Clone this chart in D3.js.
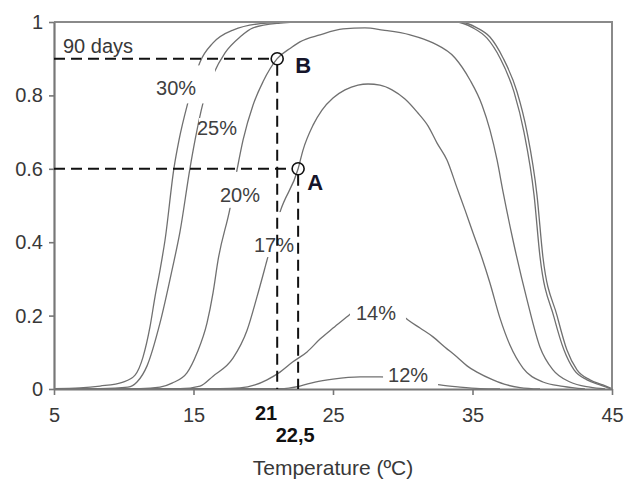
<!DOCTYPE html>
<html>
<head>
<meta charset="utf-8">
<script src="https://cdn.jsdelivr.net/npm/d3@7"></script>
<style>
  body { margin: 0; background: #fff; }
  svg text { font-family: "Liberation Sans", Arial, sans-serif; }
</style>
</head>
<body>
<svg id="chart" width="625" height="479"></svg>
<script>
// Share of seeds (0-1) against temperature (ºC) for each moisture content.
const curve30 = [[5.0,0.001],[6.86,0.003],[8.30,0.008],[9.95,0.019],[10.81,0.038],[11.38,0.087],[11.88,0.169],[12.24,0.251],[12.60,0.324],[12.96,0.406],[13.60,0.602],[13.96,0.678],[14.61,0.782],[15.47,0.891],[16.40,0.943],[17.83,0.978],[20.27,0.997],[22.63,1.0],[34.1,1.0],[35.32,0.984],[36.25,0.959],[37.19,0.902],[38.19,0.81],[38.91,0.70],[39.62,0.529],[40.05,0.359],[41.06,0.20],[41.77,0.106],[42.49,0.052],[43.42,0.025],[44.35,0.011],[45.0,0.001]];
const curve25 = [[5.0,0.0],[8.30,0.001],[10.30,0.005],[10.95,0.019],[11.67,0.063],[12.60,0.18],[13.46,0.324],[14.03,0.428],[14.75,0.602],[15.11,0.678],[15.68,0.779],[16.40,0.856],[17.26,0.916],[18.33,0.959],[19.27,0.984],[21.20,0.997],[22.63,1.0],[33.75,1.0],[35.04,0.984],[36.04,0.956],[36.97,0.902],[37.98,0.809],[38.69,0.70],[39.41,0.529],[39.84,0.36],[40.84,0.196],[41.56,0.106],[42.28,0.052],[43.21,0.025],[44.14,0.011],[44.86,0.001]];
const curve20 = [[5.0,0.0],[11.16,0.001],[12.60,0.005],[13.46,0.016],[14.53,0.044],[15.25,0.098],[15.97,0.18],[16.40,0.262],[16.76,0.351],[17.62,0.493],[18.12,0.597],[18.55,0.678],[19.27,0.774],[19.98,0.837],[21.0,0.9],[22.0,0.93],[22.63,0.946],[24.07,0.965],[25.72,0.981],[27.29,0.984],[28.58,0.978],[30.52,0.965],[32.17,0.943],[33.75,0.902],[34.82,0.842],[35.68,0.774],[36.25,0.706],[36.76,0.624],[37.19,0.537],[37.90,0.406],[38.91,0.243],[39.84,0.114],[40.77,0.052],[41.99,0.019],[43.42,0.005],[44.5,0.0]];
const curve17 = [[5.0,0.0],[14.03,0.001],[15.47,0.008],[16.40,0.035],[17.83,0.084],[18.84,0.16],[19.55,0.251],[20.27,0.351],[21.20,0.482],[22.5,0.6],[22.85,0.651],[23.57,0.719],[24.21,0.76],[25.0,0.793],[25.86,0.815],[26.79,0.828],[27.51,0.831],[28.37,0.828],[29.23,0.815],[30.16,0.79],[31.02,0.755],[31.81,0.717],[32.46,0.67],[33.17,0.624],[33.89,0.548],[34.46,0.488],[35.04,0.425],[35.68,0.357],[36.25,0.289],[36.97,0.193],[37.69,0.119],[38.62,0.057],[40.05,0.019],[41.49,0.007],[43.06,0.0]];
const curve14 = [[5.0,0.0],[16.9,0.001],[18.33,0.003],[19.41,0.011],[20.27,0.025],[21.20,0.046],[22.13,0.074],[23.14,0.101],[24.07,0.136],[25.0,0.166],[26.22,0.204],[27.08,0.232],[27.8,0.243],[28.51,0.24],[29.44,0.218],[30.38,0.188],[31.24,0.166],[32.17,0.142],[33.03,0.114],[33.89,0.087],[34.61,0.063],[35.32,0.046],[36.47,0.025],[37.47,0.011],[38.41,0.004],[39.84,0.0]];
const curve12 = [[5.0,0.0],[19.77,0.001],[21.2,0.001],[22.63,0.008],[23.71,0.019],[25.0,0.027],[26.94,0.033],[28.37,0.033],[29.8,0.03],[31.24,0.022],[32.67,0.011],[34.1,0.005],[35.54,0.001],[36.97,0.0]];

const moistureLabels = ["30%", "25%", "20%", "17%", "14%", "12%"];
const curves = [curve30, curve25, curve20, curve17, curve14, curve12];

// Reading points: A and B
const markerNames = ["A", "B"];
const markerTemps = [22.5, 21];
const markerValues = [0.6, 0.9];
const markerTempLabels = ["22,5", "21"];

const xTicks = [5, 15, 25, 35, 45];
const yTicks = [0, 0.2, 0.4, 0.6, 0.8, 1];
const yTickLabels = ["0", "0.2", "0.4", "0.6", "0.8", "1"];

const svg = d3.select("#chart");
const x = d3.scaleLinear().domain([5, 45]).range([54, 612]);
const y = d3.scaleLinear().domain([0, 1]).range([389, 22]);

// Curve label placement (data coords of centre/baseline) and the white box behind each
const labelLayout = [
  { t: 13.75, v: 0.80,  box: [-26, -30, 65, 38] },
  { t: 16.68, v: 0.692, box: [-18, -17, 40, 22] },
  { t: 18.33, v: 0.51,  box: [-25, -30, 53, 36] },
  { t: 20.77, v: 0.373, box: [-22, -40, 44, 45] },
  { t: 28.08, v: 0.188, box: [-26, -30, 56, 40] },
  { t: 30.38, v: 0.019, box: [-25, -18, 55, 22] }
];

const line = d3.line()
  .x(d => x(d[0]))
  .y(d => y(d[1]))
  .curve(d3.curveMonotoneX);

// curves
svg.append("g")
  .selectAll("path")
  .data(curves)
  .join("path")
  .attr("d", line)
  .attr("fill", "none")
  .attr("stroke", "#707070")
  .attr("stroke-width", 1.3);

// curve labels with white boxes
const lab = svg.append("g")
  .selectAll("g")
  .data(moistureLabels.map((m, i) => ({ m, ...labelLayout[i] })))
  .join("g")
  .attr("transform", d => `translate(${x(d.t)},${y(d.v)})`);
lab.append("rect")
  .attr("x", d => d.box[0]).attr("y", d => d.box[1])
  .attr("width", d => d.box[2]).attr("height", d => d.box[3])
  .attr("fill", "#fff");
lab.append("text")
  .attr("text-anchor", "middle")
  .attr("font-size", 20)
  .attr("fill", "#404040")
  .text(d => d.m);

// frame (top and right)
svg.append("path")
  .attr("d", `M${x(5)},${y(1)}H${x(45)}V${y(0)}`)
  .attr("fill", "none")
  .attr("stroke", "#8a8a8a")
  .attr("stroke-width", 2);

// axes
const xAxis = svg.append("g")
  .attr("transform", `translate(0,${y(0)})`)
  .call(d3.axisBottom(x).tickValues(xTicks).tickSize(6).tickSizeOuter(0).tickPadding(13).tickFormat(d3.format("d")));
const yAxis = svg.append("g")
  .attr("transform", `translate(${x(5)},0)`)
  .call(d3.axisLeft(y).tickValues(yTicks).tickSize(5).tickSizeOuter(0).tickPadding(6).tickFormat((d, i) => yTickLabels[i]));
[xAxis, yAxis].forEach(g => {
  g.select(".domain").attr("stroke", "#777").attr("stroke-width", 2.2);
  g.selectAll(".tick line").attr("stroke", "#777").attr("stroke-width", 1.6);
  g.selectAll(".tick text").attr("font-size", 20).attr("fill", "#383838")
    .attr("font-family", "'Liberation Sans', Arial, sans-serif");
});

// reading lines to the axes
const guides = svg.append("g")
  .attr("fill", "none")
  .attr("stroke", "#111")
  .attr("stroke-width", 2)
  .attr("stroke-dasharray", "11,6");
markerNames.forEach((n, i) => {
  const px = x(markerTemps[i]), py = y(markerValues[i]);
  guides.append("path").attr("d", `M${x(5)},${py}H${px - 6}`);
  guides.append("path").attr("d", `M${px},${py + 6}V${y(0)}`);
});

// markers
svg.append("g")
  .selectAll("circle")
  .data(markerNames.map((n, i) => ({ n, t: markerTemps[i], v: markerValues[i] })))
  .join("circle")
  .attr("cx", d => x(d.t)).attr("cy", d => y(d.v)).attr("r", 6)
  .attr("fill", "none").attr("stroke", "#111").attr("stroke-width", 1.6);

// point names
const nameOffsets = { A: [9, 21], B: [18, 14] };
svg.append("g")
  .selectAll("text")
  .data(markerNames.map((n, i) => ({ n, t: markerTemps[i], v: markerValues[i] })))
  .join("text")
  .attr("x", d => x(d.t) + nameOffsets[d.n][0])
  .attr("y", d => y(d.v) + nameOffsets[d.n][1])
  .attr("font-size", 22)
  .attr("font-weight", "bold")
  .attr("fill", "#15152a")
  .text(d => d.n);

// temperature readings under the axis
svg.append("text")
  .attr("x", x(markerTemps[1])).attr("y", 420)
  .attr("text-anchor", "end").attr("font-size", 20).attr("font-weight", "bold").attr("fill", "#111")
  .text(markerTempLabels[1]);
svg.append("text")
  .attr("x", x(markerTemps[0]) - 3).attr("y", 442)
  .attr("text-anchor", "middle").attr("font-size", 20).attr("font-weight", "bold").attr("fill", "#111")
  .text(markerTempLabels[0]);

// series note and axis title
svg.append("text")
  .attr("x", 63).attr("y", 53)
  .attr("font-size", 20).attr("fill", "#383838")
  .text("90 days");
svg.append("text")
  .attr("x", (x(5) + x(45)) / 2).attr("y", 475)
  .attr("text-anchor", "middle").attr("font-size", 21).attr("fill", "#383838")
  .text("Temperature (ºC)");
</script>
</body>
</html>
